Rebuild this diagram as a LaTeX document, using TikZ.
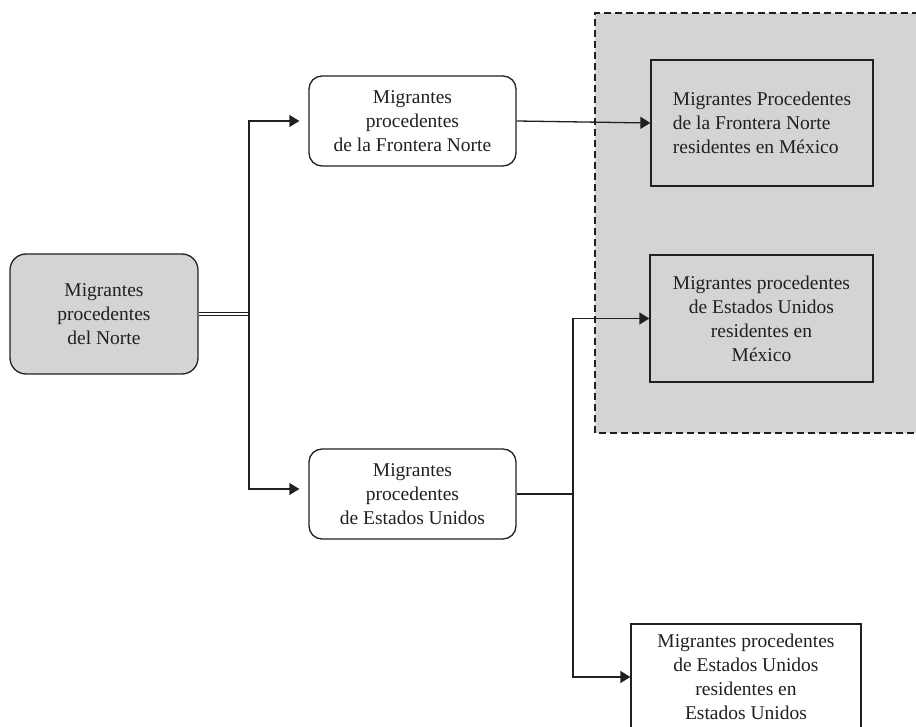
\documentclass[tikz,border=0pt]{standalone}
\usepackage{fontspec}
\setmainfont{Liberation Serif}
\usetikzlibrary{arrows.meta}
\definecolor{ink}{HTML}{231F20}
\definecolor{panel}{HTML}{D3D4D6}
\begin{document}
\begin{tikzpicture}[x=1pt,y=-1pt,
  txt/.style={font=\fontsize{19.5}{24}\selectfont, text=ink, align=center, inner sep=0pt},
  rbox/.style={txt, draw=ink, line width=1.3pt, rounded corners=13pt},
  sbox/.style={txt, draw=ink, line width=1.3pt},
  conn/.style={draw=ink, line width=1.3pt},
  arr/.style={conn, -{Triangle[length=10pt,width=12pt]}}]
\useasboundingbox (0,0) rectangle (916,727);
% shaded region
\fill[panel] (595,13) rectangle (930,433);
\draw[ink, line width=1.3pt, dash pattern=on 7pt off 4pt] (930,13) -- (595,13) -- (595,433) -- (930,433);
% nodes
\node[rbox, fill=panel, rounded corners=16pt, minimum width=188pt, minimum height=120pt] (norte) at (104,314) {Migrantes\\procedentes\\del Norte};
\node[rbox, minimum width=207pt, minimum height=90pt] (fr) at (412.5,121) {Migrantes\\procedentes\\de la Frontera Norte};
\node[rbox, minimum width=207pt, minimum height=90pt] (eu) at (412.5,494) {Migrantes\\procedentes\\de Estados Unidos};
\node[sbox, align=left, minimum width=222pt, minimum height=126pt] (frmex) at (762,123) {Migrantes Procedentes\\de la Frontera Norte\\residentes en México};
\node[sbox, minimum width=223pt, minimum height=127pt] (eumex) at (761.5,318.5) {Migrantes procedentes\\de Estados Unidos\\residentes en\\México};
\node[sbox, fill=white, minimum width=230pt, minimum height=106pt] (eueu) at (746,677) {Migrantes procedentes\\de Estados Unidos\\residentes en\\Estados Unidos};
% connectors
\coordinate (j) at (249,314);
\coordinate (euin) at ([yshift=5pt]eu.west);
\draw[ink, line width=0.9pt, double=white, double distance=1.6pt] (norte.east) -- (j);
\draw[arr, shorten >=9pt] (j) |- (fr.west);
\draw[arr, shorten >=9pt] (j) |- (euin);
\draw[arr] (fr.east) -- (frmex.west);
\coordinate (k) at (573,494);
\draw[conn] (eu.east) -- (k);
\draw[arr] (k) |- (eumex.west);
\draw[arr] (k) |- (eueu.west);
\end{tikzpicture}
\end{document}
